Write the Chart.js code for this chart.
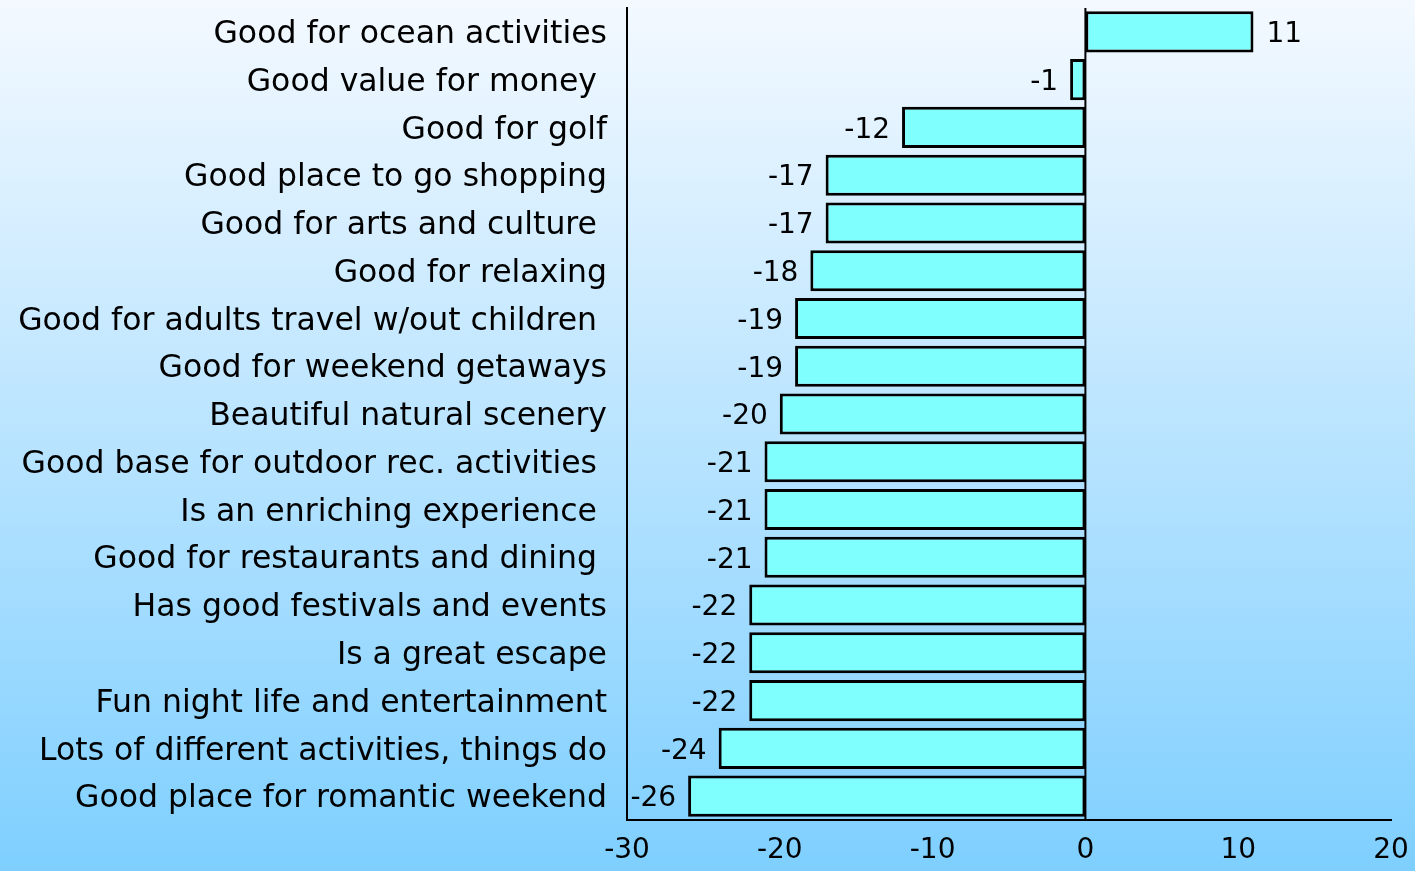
<!DOCTYPE html>
<html>
<head>
<meta charset="utf-8">
<script src="https://cdn.jsdelivr.net/npm/chart.js@4"></script>
<style>
  html, body { margin: 0; padding: 0; }
  body { width: 1415px; height: 871px; overflow: hidden; }
  #wrap { width: 1415px; height: 871px; position: relative; }
</style>
</head>
<body>
<div id="wrap"><canvas id="attrCanvas"></canvas></div>
<script>
// attribute labels, top to bottom (trailing spaces kept as in the original)
let attributes = [
    "Good for ocean activities",
    "Good value for money ",
    "Good for golf",
    "Good place to go shopping",
    "Good for arts and culture ",
    "Good for relaxing",
    "Good for adults travel w/out children ",
    "Good for weekend getaways",
    "Beautiful natural scenery",
    "Good base for outdoor rec. activities ",
    "Is an enriching experience ",
    "Good for restaurants and dining ",
    "Has good festivals and events",
    "Is a great escape",
    "Fun night life and entertainment",
    "Lots of different activities, things do",
    "Good place for romantic weekend"
];
let scores = [11, -1, -12, -17, -17, -18, -19, -19, -20, -21, -21, -21, -22, -22, -22, -24, -26];
let xTicks = [-30, -20, -10, 0, 10, 20];

let fontFamily = '"DejaVu Sans", sans-serif';

let backgroundPlugin = {
    id: 'bgGradient',
    beforeDraw(chart) {
        let ctx = chart.ctx;
        let grad = ctx.createLinearGradient(0, 0, 0, chart.height);
        grad.addColorStop(0, '#f4f9ff');
        grad.addColorStop(1, '#7ecfff');
        ctx.save();
        ctx.fillStyle = grad;
        ctx.fillRect(0, 0, chart.width, chart.height);
        ctx.restore();
    }
};

// vertical line at zero, drawn over the bars so their edges meet it
let zeroLinePlugin = {
    id: 'zeroLine',
    afterDatasetsDraw(chart) {
        let ctx = chart.ctx;
        let area = chart.chartArea;
        let x0 = chart.scales.x.getPixelForValue(0);
        ctx.save();
        ctx.strokeStyle = '#000';
        ctx.lineWidth = 2;
        ctx.beginPath();
        ctx.moveTo(x0, area.top);
        ctx.lineTo(x0, area.bottom);
        ctx.stroke();
        ctx.restore();
    }
};

let valueLabelPlugin = {
    id: 'valueLabels',
    afterDatasetsDraw(chart) {
        let ctx = chart.ctx;
        let meta = chart.getDatasetMeta(0);
        ctx.save();
        ctx.font = '28px ' + fontFamily;
        ctx.fillStyle = '#000';
        ctx.textBaseline = 'middle';
        meta.data.forEach(function (bar, i) {
            let v = scores[i];
            if (v < 0) {
                ctx.textAlign = 'right';
                ctx.fillText(String(v), bar.x - 12, bar.y + 3);
            } else {
                ctx.textAlign = 'left';
                ctx.fillText(String(v), bar.x + 13, bar.y + 3);
            }
        });
        ctx.restore();
    }
};

function attributeChart() {
    let attrData = {
        labels: attributes,
        datasets: [{
            data: scores,
            backgroundColor: '#80ffff',
            borderColor: '#000',
            borderWidth: 3,
            borderSkipped: false,
            barPercentage: 0.86,
            categoryPercentage: 1
        }]
    };

    let attrOptions = {
        indexAxis: 'y',
        responsive: true,
        maintainAspectRatio: false,
        animation: { duration: 0 },
        layout: { padding: { top: 8, right: 24, left: 0, bottom: 0 } },
        scales: {
            x: {
                min: -30,
                max: 20,
                afterBuildTicks(scale) {
                    scale.ticks = xTicks.map(v => ({ value: v }));
                },
                afterFit(scale) {
                    scale.height = 51;
                    scale.paddingLeft = 0;
                    scale.paddingRight = 0;
                },
                grid: { display: false, drawTicks: false },
                border: { display: true, color: '#000', width: 2 },
                ticks: {
                    color: '#000',
                    padding: 14,
                    maxRotation: 0,
                    font: { family: fontFamily, size: 28 }
                }
            },
            y: {
                afterFit(scale) {
                    scale.width = 627;
                    scale.paddingTop = 0;
                    scale.paddingBottom = 0;
                },
                grid: { display: false, drawTicks: false },
                border: { display: true, color: '#000', width: 2 },
                ticks: {
                    color: '#000',
                    padding: 20,
                    labelOffset: 3,
                    autoSkip: false,
                    font: { family: fontFamily, size: 31.5 }
                }
            }
        },
        plugins: {
            legend: { display: false },
            tooltip: { enabled: false }
        }
    };

    let chart = new Chart(document.getElementById('attrCanvas'), {
        type: 'bar',
        data: attrData,
        options: attrOptions,
        plugins: [backgroundPlugin, zeroLinePlugin, valueLabelPlugin]
    });

    return chart;
}

attributeChart();
</script>
</body>
</html>
